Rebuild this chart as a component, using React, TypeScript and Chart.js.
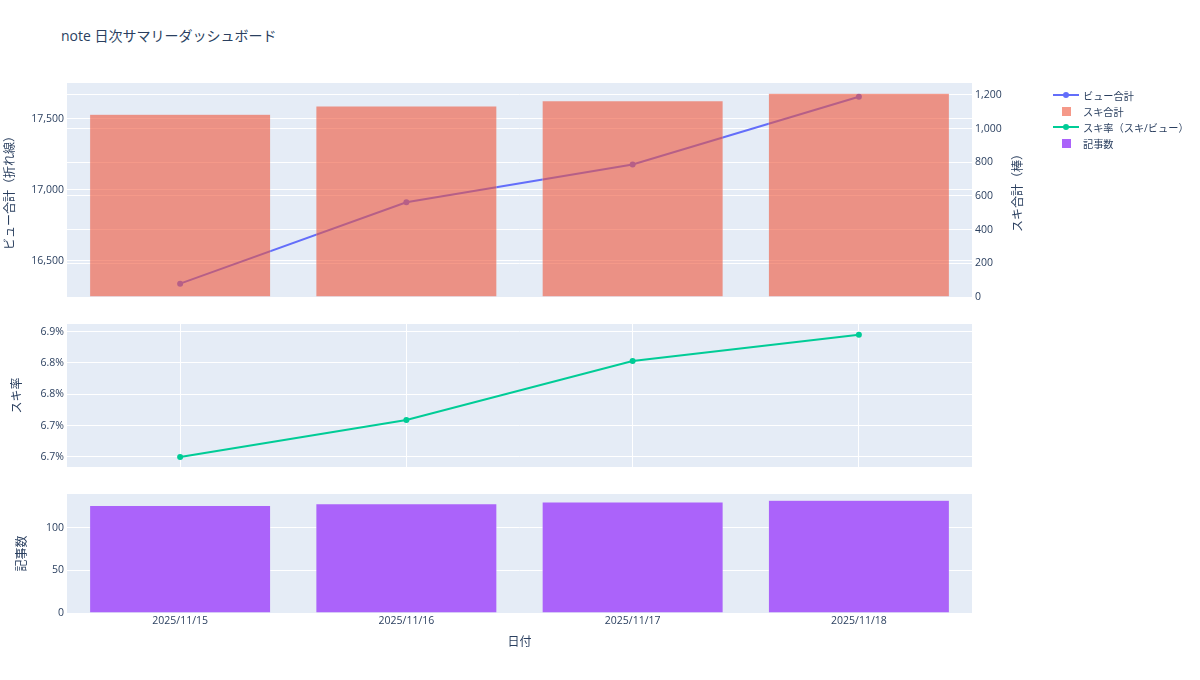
import React, { useEffect, useRef } from 'react';
import { Chart, ChartConfiguration, registerables } from 'chart.js';

Chart.register(...registerables);

const FONT = "'Open Sans', 'Noto Sans CJK JP', sans-serif";
const TEXT = '#2a3f5f';
const PLOT_BG = '#E5ECF6';

// data
const dates = ['2025/11/15', '2025/11/16', '2025/11/17', '2025/11/18'];
const viewTotals = [16338, 16912, 17179, 17657];
const likeTotals = [1086, 1135, 1166, 1210];
const likeRates = [0.0665, 0.06709, 0.06803, 0.06845];
const articleCounts = [126, 128, 130, 132];

// tick values / labels
const viewTicks = [16500, 17000, 17500];
const likeTicks = [0, 200, 400, 600, 800, 1000, 1200];
const rateTicks = [0.0665, 0.067, 0.0675, 0.068, 0.0685];
const rateTickLabels = ['6.7%', '6.7%', '6.8%', '6.8%', '6.9%'];
const articleTicks = [0, 50, 100];

const legendItems = [
  { label: 'ビュー合計', kind: 'line', color: '#636EFA' },
  { label: 'スキ合計', kind: 'box', color: 'rgba(239,85,59,0.6)' },
  { label: 'スキ率（スキ/ビュー）', kind: 'line', color: '#00CC96' },
  { label: '記事数', kind: 'box', color: '#AB63FA' },
];

const tickFont = { family: FONT, size: 10.5 };
const titleFont = { family: FONT, size: 12 };

// paint the plot area background
const plotBg = {
  id: 'plotBg',
  beforeDraw(chart: Chart) {
    const { ctx, chartArea } = chart;
    ctx.save();
    ctx.fillStyle = PLOT_BG;
    ctx.fillRect(chartArea.left, chartArea.top, chartArea.right - chartArea.left, chartArea.bottom - chartArea.top);
    ctx.restore();
  },
};

// right axis title, read bottom-to-top like plotly
const rightTitle = {
  id: 'rightTitle',
  afterDraw(chart: Chart) {
    const { ctx, chartArea } = chart;
    ctx.save();
    ctx.translate(1019, (chartArea.top + chartArea.bottom) / 2);
    ctx.rotate(-Math.PI / 2);
    ctx.fillStyle = TEXT;
    ctx.font = `12px ${FONT}`;
    ctx.textAlign = 'center';
    ctx.textBaseline = 'middle';
    ctx.fillText('スキ合計（棒）', 0, 0);
    ctx.restore();
  },
};

const fixedTicks = (vals: number[]) => (s: any) => {
  s.ticks = vals.map((v) => ({ value: v }));
};

const yAxis = (extra: any) => ({
  grid: { color: '#ffffff', lineWidth: 1, drawTicks: false },
  border: { display: false },
  ticks: { color: TEXT, font: tickFont, padding: 3 },
  ...extra,
});

const topConfig = (): ChartConfiguration => ({
  type: 'bar',
  data: {
    labels: dates,
    datasets: [
      {
        type: 'line',
        label: 'ビュー合計',
        data: viewTotals,
        yAxisID: 'yViews',
        borderColor: '#636EFA',
        backgroundColor: '#636EFA',
        borderWidth: 2,
        pointRadius: 3,
        pointBorderWidth: 0,
        order: 1,
      } as any,
      {
        type: 'bar',
        label: 'スキ合計',
        data: likeTotals,
        yAxisID: 'yLikes',
        backgroundColor: 'rgba(239,85,59,0.6)',
        borderColor: 'rgba(229,236,246,0.6)',
        borderWidth: 0.5,
        barPercentage: 0.8,
        categoryPercentage: 1,
        order: 0,
      },
    ],
  },
  options: {
    animation: false,
    responsive: true,
    maintainAspectRatio: false,
    layout: { padding: { left: 3, right: 170, top: 13, bottom: 13 } },
    plugins: { legend: { display: false }, tooltip: { enabled: false } },
    scales: {
      x: { display: false, offset: true },
      yViews: yAxis({
        position: 'left',
        min: 16244,
        max: 17754,
        afterBuildTicks: fixedTicks(viewTicks),
        afterFit: (s: any) => { s.width = 64; },
        ticks: { color: TEXT, font: tickFont, padding: 3, callback: (v: any) => Number(v).toLocaleString('en-US') },
        title: { display: true, text: 'ビュー合計（折れ線）', color: TEXT, font: titleFont, padding: 0 },
      }),
      yLikes: yAxis({
        position: 'right',
        min: 0,
        max: 1271,
        afterBuildTicks: fixedTicks(likeTicks),
        afterFit: (s: any) => { s.width = 58; },
        ticks: { color: TEXT, font: tickFont, padding: 3, callback: (v: any) => Number(v).toLocaleString('en-US') },
      }),
    },
  } as any,
  plugins: [plotBg, rightTitle],
});

const midConfig = (): ChartConfiguration => ({
  type: 'line',
  data: {
    labels: dates,
    datasets: [
      {
        label: 'スキ率（スキ/ビュー）',
        data: likeRates,
        borderColor: '#00CC96',
        backgroundColor: '#00CC96',
        borderWidth: 2,
        pointRadius: 3,
        pointBorderWidth: 0,
      },
    ],
  },
  options: {
    animation: false,
    responsive: true,
    maintainAspectRatio: false,
    layout: { padding: { left: 10, right: 228, top: 14, bottom: 13 } },
    plugins: { legend: { display: false }, tooltip: { enabled: false } },
    scales: {
      x: {
        offset: true,
        grid: { color: '#ffffff', offset: false, drawTicks: false },
        border: { display: false },
        ticks: { display: false },
        afterFit: (s: any) => { s.height = 0; },
      },
      y: yAxis({
        min: 0.06634,
        max: 0.06862,
        afterBuildTicks: fixedTicks(rateTicks),
        afterFit: (s: any) => { s.width = 57; },
        ticks: { color: TEXT, font: tickFont, padding: 3, callback: (_v: any, i: number) => rateTickLabels[i] },
        title: { display: true, text: 'スキ率', color: TEXT, font: titleFont, padding: 0 },
      }),
    },
  } as any,
  plugins: [plotBg],
});

const bottomConfig = (): ChartConfiguration => ({
  type: 'bar',
  data: {
    labels: dates,
    datasets: [
      {
        label: '記事数',
        data: articleCounts,
        backgroundColor: '#AB63FA',
        borderColor: 'rgba(229,236,246,0.8)',
        borderWidth: 0.5,
        barPercentage: 0.8,
        categoryPercentage: 1,
      },
    ],
  },
  options: {
    animation: false,
    responsive: true,
    maintainAspectRatio: false,
    layout: { padding: { left: 15, right: 228, top: 14, bottom: 30 } },
    plugins: { legend: { display: false }, tooltip: { enabled: false } },
    scales: {
      x: {
        grid: { display: false, drawTicks: false },
        border: { display: false },
        ticks: { color: TEXT, font: tickFont, padding: 2, maxRotation: 0 },
        title: { display: true, text: '日付', color: TEXT, font: titleFont, padding: 0 },
        afterFit: (s: any) => { s.height = 37; },
      },
      y: yAxis({
        min: 0,
        max: 139.4,
        afterBuildTicks: fixedTicks(articleTicks),
        afterFit: (s: any) => { s.width = 52; },
        title: { display: true, text: '記事数', color: TEXT, font: titleFont, padding: 0 },
      }),
    },
  } as any,
  plugins: [plotBg],
});

const Panel: React.FC<{ top: number; height: number; make: () => ChartConfiguration }> = ({ top, height, make }) => {
  const canvasRef = useRef<HTMLCanvasElement | null>(null);

  useEffect(() => {
    if (!canvasRef.current) return;
    const chart = new Chart(canvasRef.current, make());
    return () => chart.destroy();
  }, [make]);

  return (
    <div style={{ position: 'absolute', left: 0, top, width: 1200, height }}>
      <canvas ref={canvasRef} />
    </div>
  );
};

const Legend: React.FC = () => (
  <div style={{ position: 'absolute', left: 1053, top: 87, fontSize: 10.2, color: TEXT }}>
    {legendItems.map((it) => (
      <div key={it.label} style={{ display: 'flex', alignItems: 'center', height: 16 }}>
        <svg width={26} height={12} style={{ display: 'block' }}>
          {it.kind === 'line' ? (
            <>
              <line x1={0} y1={6} x2={26} y2={6} stroke={it.color} strokeWidth={2} />
              <circle cx={13} cy={6} r={3} fill={it.color} />
            </>
          ) : (
            <rect x={9} y={2} width={9} height={9} fill={it.color} />
          )}
        </svg>
        <span style={{ marginLeft: 4, whiteSpace: 'nowrap' }}>{it.label}</span>
      </div>
    ))}
  </div>
);

export default function App() {
  Chart.defaults.font.family = FONT;
  return (
    <div style={{ position: 'fixed', left: 0, top: 0, width: 1200, height: 680, background: '#fff', fontFamily: FONT }}>
      <div style={{ position: 'absolute', left: 61, top: 25, fontSize: 14, color: TEXT, whiteSpace: 'nowrap' }}>
        note 日次サマリーダッシュボード
      </div>
      <Panel top={70} height={240} make={topConfig} />
      <Panel top={310} height={170} make={midConfig} />
      <Panel top={480} height={200} make={bottomConfig} />
      <Legend />
    </div>
  );
}
